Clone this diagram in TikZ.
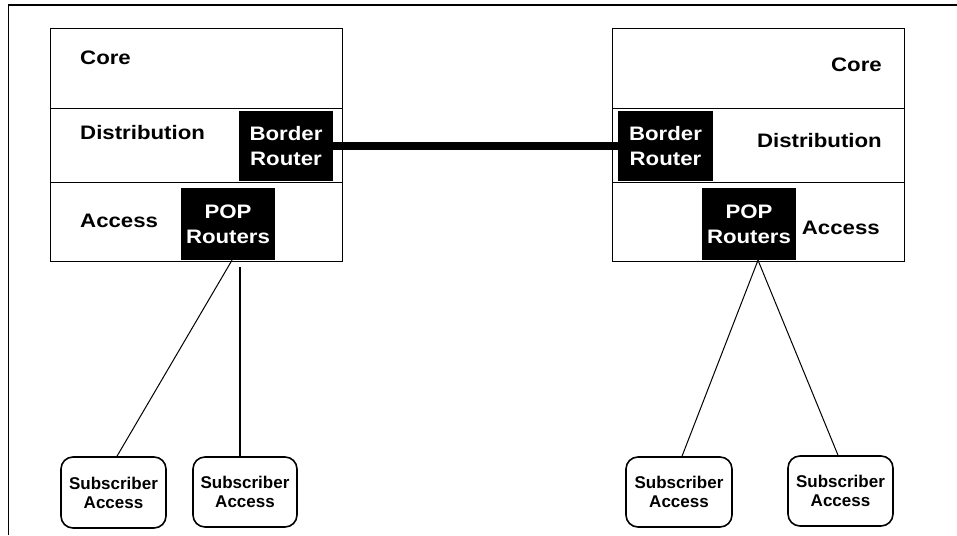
\documentclass[tikz,border=0pt]{standalone}
\usepackage{fontspec}
\setmainfont{Liberation Sans}
\newfontfamily\widefont[FakeStretch=1.14]{Liberation Sans}
\begin{document}
\begin{tikzpicture}[x=1pt,y=-1pt,
  tier/.style={draw, line width=1.2pt, minimum width=292pt, anchor=north west, inner sep=0pt},
  blk/.style={fill=black, text=white, align=center, inner sep=0pt,
    font=\widefont\bfseries\fontsize{19.5}{25}\selectfont},
  lbl/.style={inner sep=0pt, font=\widefont\bfseries\fontsize{19.5}{25}\selectfont},
  sub/.style={draw, line width=1.6pt, rounded corners=12pt, align=center, inner sep=0pt,
    font=\bfseries\fontsize{17}{19}\selectfont},
  link/.style={line width=1pt}]
\useasboundingbox (0,0) rectangle (957,535);
% frame
\draw[line width=1.5pt] (8.5,535) -- (8.5,5) -- (957,5);
% left tiers
\node[tier, minimum height=80pt] (lcore) at (50,28) {};
\node[tier, minimum height=74pt] (ldist) at (50,108) {};
\node[tier, minimum height=79pt] (lacc) at (50,182) {};
% right tiers
\node[tier, minimum height=80pt] (rcore) at (612,28) {};
\node[tier, minimum height=74pt] (rdist) at (612,108) {};
\node[tier, minimum height=79pt] (racc) at (612,182) {};
% tier labels
\node[lbl, anchor=base west] (tlcore) at (80,64) {Core};
\node[lbl, anchor=base west] (tldist) at (80,139) {Distribution};
\node[lbl, anchor=base west] (tlacc) at (80,227) {Access};
\node[lbl, anchor=base east] (trcore) at (882,71) {Core};
\node[lbl, anchor=base east] (trdist) at (882,147.5) {Distribution};
\node[lbl, anchor=base east] (tracc) at (880,234) {Access};
% routers
\node[blk, minimum width=94pt, minimum height=70pt] (lbr) at (286,146) {Border\\Router};
\node[blk, minimum width=94pt, minimum height=72pt] (lpop) at (228,224) {POP\\Routers};
\node[blk, minimum width=95pt, minimum height=70pt] (rbr) at (665.5,146) {Border\\Router};
\node[blk, minimum width=94pt, minimum height=72pt] (rpop) at (749,224) {POP\\Routers};
% trunk
\draw[line width=7.5pt] (lbr.east) -- (rbr.west);
% subscribers
\node[sub, minimum width=105pt, minimum height=71pt] (ls1) at (113.5,492.5) {Subscriber\\Access};
\node[sub, minimum width=104pt, minimum height=70pt] (ls2) at (245,492) {Subscriber\\Access};
\node[sub, minimum width=106pt, minimum height=70pt] (rs1) at (679,492) {Subscriber\\Access};
\node[sub, minimum width=105pt, minimum height=70pt] (rs2) at (840.5,491) {Subscriber\\Access};
% links
\draw[link] ([xshift=4pt]lpop.south) -- ([xshift=3.5pt]ls1.north);
\draw[link, line width=1.5pt] ([xshift=12pt,yshift=-7pt]lpop.south) -- ([xshift=-5pt]ls2.north);
\draw[link] ([xshift=9pt]rpop.south) -- ([xshift=3pt]rs1.north);
\draw[link] ([xshift=9pt]rpop.south) -- ([xshift=-2.5pt]rs2.north);
\end{tikzpicture}
\end{document}
